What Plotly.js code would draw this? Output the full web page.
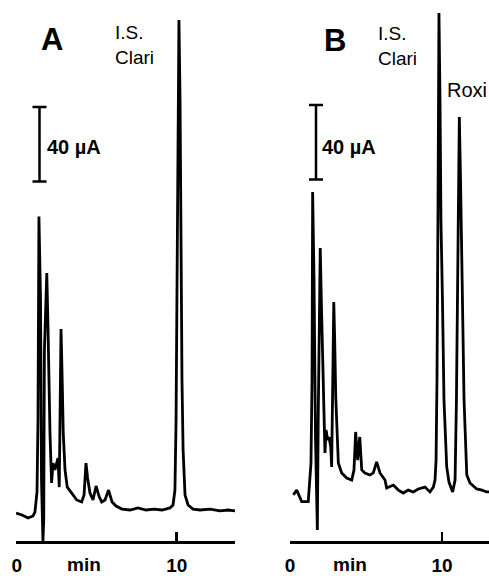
<!DOCTYPE html>
<html><head><meta charset="utf-8">
<script src="https://cdn.plot.ly/plotly-3.0.1.min.js"></script>
<style>html,body{margin:0;padding:0;background:#fff}</style>
</head><body><div id="chart" style="width:489px;height:576px"></div>
<script>
// Chromatogram A (time in min, signal in µA relative to baseline)
const timeA = [-0.04,0.33,0.71,1.02,1.14,1.27,1.33,1.39,1.49,1.55,1.64,1.69,1.73,1.80,1.88,1.96,2.02,2.08,2.18,2.27,2.39,2.49,2.58,2.66,2.71,2.77,2.83,2.91,3.02,3.16,3.44,3.75,4.06,4.21,4.33,4.43,4.58,4.77,4.96,5.14,5.31,5.52,5.74,5.96,6.21,6.58,7.08,7.58,8.08,8.58,9.08,9.58,9.77,9.89,9.96,10.02,10.08,10.14,10.21,10.27,10.33,10.40,10.52,10.71,11.02,11.46,12.08,12.71,13.21,13.65];
const signalA = [-1.6,-2.7,-4.3,-3.2,-1.1,9.7,48.3,157.6,112.8,16.1,-16.6,-5.4,84.8,112.8,127.2,96.6,59.1,41.3,14.5,25.2,21.5,25.8,27.9,12.3,48.3,97.2,75.2,41.3,21.5,12.3,9.1,5.4,4.3,8.1,25.2,17.2,9.1,5.4,12.9,7.5,4.3,5.4,10.7,4.3,2.1,0.5,0,1.1,0,0.5,0,1.1,2.7,10.7,48.3,112.8,209.4,263.1,220.1,134.2,69.8,32.2,8.1,2.7,0.5,0,0.5,-0.5,0,-0.5];

// Chromatogram B
const timeB = [0.22,0.44,0.77,1.20,1.38,1.45,1.49,1.58,1.68,1.80,1.86,1.93,1.99,2.06,2.13,2.24,2.30,2.37,2.48,2.57,2.68,2.74,2.81,2.88,2.94,3.01,3.18,3.40,3.73,4.06,4.21,4.32,4.45,4.59,4.72,4.93,5.26,5.48,5.70,5.92,6.25,6.36,6.80,7.13,7.45,7.78,8.11,8.44,8.88,9.21,9.43,9.54,9.61,9.67,9.74,9.80,9.87,9.93,10.03,10.13,10.31,10.46,10.70,10.86,10.95,11.05,11.14,11.22,11.32,11.45,11.63,11.84,12.28,12.63,12.94,13.09];
const signalB = [8.1,10.7,4.5,4.5,25.2,69.8,170.7,123.5,37.6,-10.7,52.1,103.6,140.7,112.8,87.5,43.0,30.6,43.0,37.6,39.2,33.8,23.1,69.8,111.7,91.3,60.7,25.2,19.9,17.2,16.1,21.5,41.9,26.8,39.2,21.5,19.9,18.8,19.9,25.8,19.9,16.1,11.8,13.4,10.7,9.1,10.7,9.7,11.3,12.3,9.7,12.3,16.1,26.8,69.8,166.4,266.8,220.1,155.7,112.8,59.1,23.1,15.0,9.7,16.1,59.1,155.7,211.0,177.2,123.5,59.1,18.8,14.5,11.3,10.7,9.7,9.7];

const tickVals = [0, 10];
const tickText = ['0', '10'];
const scaleBarUA = 40;

const W = 489, H = 576, plotBottom = 541;
const px = x => x / W;
const py = y => (plotBottom - y) / plotBottom;
const font = 'Liberation Sans, Arial, sans-serif';

const lineStyle = {color: '#000', width: 2.8, shape: 'linear'};
const traces = [
  {x: timeA, y: signalA, xaxis: 'x', yaxis: 'y', mode: 'lines', line: lineStyle, hoverinfo: 'none'},
  {x: timeB, y: signalB, xaxis: 'x2', yaxis: 'y', mode: 'lines', line: lineStyle, hoverinfo: 'none'},
  {x: [1.425], y: [196.4], xaxis: 'x', yaxis: 'y', mode: 'markers', marker: {size: 1, color: 'rgba(0,0,0,0)'},
   error_y: {type: 'data', array: [scaleBarUA / 2], symmetric: true, color: '#000', thickness: 2.5, width: 7}, hoverinfo: 'none'},
  {x: [1.71], y: [197.4], xaxis: 'x2', yaxis: 'y', mode: 'markers', marker: {size: 1, color: 'rgba(0,0,0,0)'},
   error_y: {type: 'data', array: [scaleBarUA / 2], symmetric: true, color: '#000', thickness: 2.5, width: 7}, hoverinfo: 'none'}
];

const xCommon = {
  showgrid: false, zeroline: false, showline: true, linecolor: '#000', linewidth: 2.5,
  ticks: 'inside', ticklen: 9, tickwidth: 2.5, tickcolor: '#000',
  tickvals: tickVals, ticktext: tickText, ticklabelstandoff: 6,
  tickfont: {family: font, size: 19, color: '#000', weight: 'bold'},
  anchor: 'y', fixedrange: true
};

const ann = (text, x, y, size, weight, xanchor, extra) => Object.assign({
  text: text, xref: 'paper', yref: 'paper', x: px(x), y: py(y), xanchor: xanchor || 'left', yanchor: 'middle',
  showarrow: false, font: {family: font, size: size, color: '#000', weight: weight || 'normal'}, align: 'left'
}, extra || {});

const layout = {
  width: W, height: H, margin: {l: 0, r: 0, t: 0, b: H - plotBottom},
  paper_bgcolor: '#fff', plot_bgcolor: '#fff', showlegend: false,
  xaxis: Object.assign({}, xCommon, {domain: [px(16), px(235)], range: [-0.7/16, (235 - 16.7)/16]}),
  xaxis2: Object.assign({}, xCommon, {domain: [px(289.5), 1], range: [-0.5/15.2, (489 - 290)/15.2]}),
  yaxis: {range: [-16.64, 273.83], visible: false, fixedrange: true},
  annotations: [
    ann('A', 52, 39, 31, 'bold', 'center'),
    ann('B', 334.5, 40, 31, 'bold', 'center'),
    ann('I.S.<br>Clari', 113, 45, 19, 'normal', 'left'),
    ann('I.S.<br>Clari', 376, 46, 19, 'normal', 'left'),
    ann('Roxi', 445, 90, 20, 'normal', 'left'),
    ann('40 µA', 45, 147, 20, 'bold', 'left'),
    ann('40 µA', 320, 147, 20, 'bold', 'left'),
    ann('min', 83.5, 576, 19, 'bold', 'center', {yanchor: 'bottom', borderpad: 0}),
    ann('min', 350, 576, 19, 'bold', 'center', {yanchor: 'bottom', borderpad: 0})
  ]
};

Plotly.newPlot('chart', traces, layout, {staticPlot: true, displayModeBar: false});
</script></body></html>
